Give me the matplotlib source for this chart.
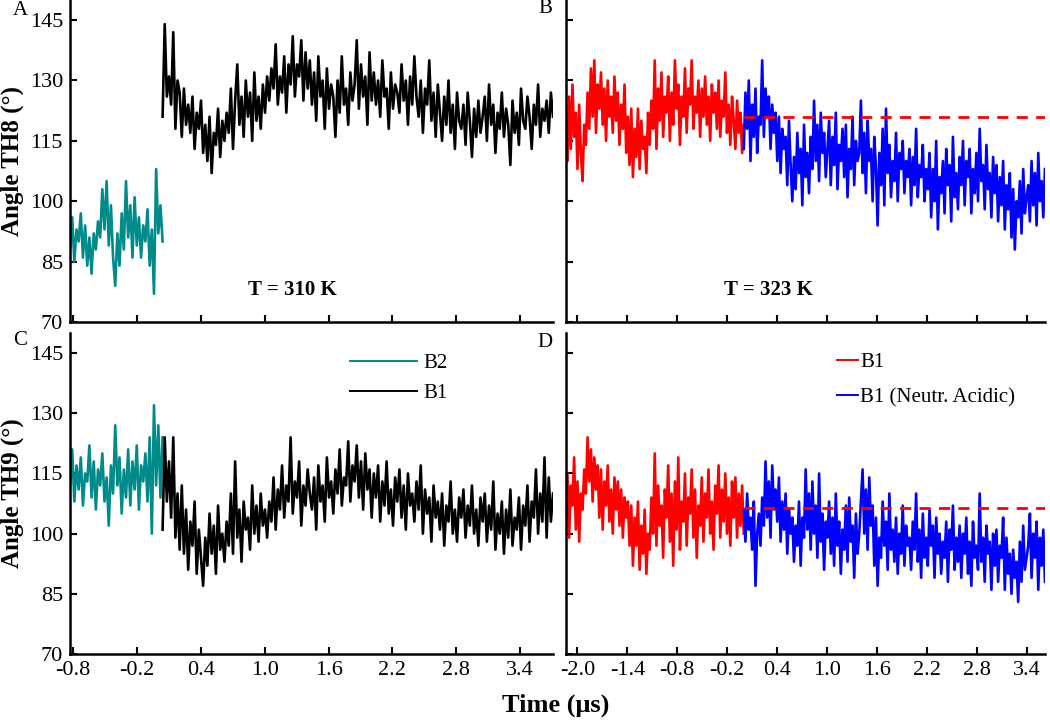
import matplotlib
matplotlib.use("Agg")
import matplotlib.pyplot as plt
import numpy as np

# ---- values (angle in degrees), ~0.02 us apart ----
# panel A: TH8, T = 310 K
th8_b2_310 = [88, 96, 85, 93, 90, 97, 86, 94, 84, 91,
              82, 92, 88, 95, 91, 103, 93, 105, 89, 99,
              86, 79, 92, 84, 97, 88, 105, 91, 99, 86,
              101, 89, 96, 86, 94, 90, 98, 84, 93, 77,
              108, 92, 99, 90]
th8_b1_310 = [121, 144, 126, 131, 124, 142, 118, 130, 127, 116,
              128, 119, 124, 117, 126, 113, 122, 118, 125, 112,
              119, 110, 121, 107, 117, 114, 123, 111, 120, 115,
              122, 117, 128, 113, 125, 134, 119, 126, 116, 130,
              121, 127, 115, 132, 120, 126, 118, 129, 122, 131,
              125, 133, 128, 139, 124, 131, 127, 136, 122, 134,
              129, 141, 126, 134, 131, 140, 125, 137, 128, 135,
              124, 132, 120, 136, 126, 130, 118, 133, 123, 129,
              126, 116, 130, 122, 136, 124, 128, 119, 132, 125,
              129, 140, 123, 134, 126, 131, 119, 137, 125, 132,
              124, 130, 121, 135, 126, 128, 118, 132, 123, 129,
              127, 122, 134, 125, 130, 119, 131, 124, 136, 126,
              121, 130, 117, 128, 124, 135, 120, 127, 116, 129,
              122, 115, 126, 119, 130, 117, 124, 113, 127, 120,
              118, 124, 114, 127, 120, 111, 123, 116, 125, 117,
              121, 126, 115, 129, 119, 124, 112, 122, 118, 127,
              116, 123, 119, 109, 125, 117, 122, 114, 128, 120,
              118, 126, 121, 113, 124, 119, 129, 116, 123, 120,
              125, 117, 127, 121]

# panel C: TH9, T = 310 K
th9_b2_310 = [112, 121, 108, 117, 111, 119, 107, 115, 113, 122,
              109, 118, 106, 116, 112, 120, 108, 114, 102, 117,
              110, 127, 112, 119, 105, 116, 109, 121, 107, 118,
              111, 122, 106, 117, 113, 120, 108, 124, 100, 132,
              112, 127, 109, 124]
th9_b1_310 = [101, 124, 108, 118, 104, 124, 99, 110, 96, 112,
              95, 106, 91, 103, 97, 108, 90, 101, 94, 87,
              99, 92, 105, 95, 102, 90, 107, 96, 100, 93,
              103, 97, 110, 95, 118, 99, 106, 93, 108, 101,
              104, 96, 112, 100, 107, 98, 110, 102, 106, 99,
              108, 103, 114, 101, 111, 106, 117, 104, 112, 108,
              124, 105, 113, 109, 118, 102, 112, 107, 116, 110,
              106, 114, 101, 117, 108, 112, 103, 119, 109, 113,
              105, 116, 110, 121, 107, 114, 112, 123, 108, 117,
              113, 122, 109, 118, 106, 120, 111, 116, 104, 115,
              109, 117, 103, 113, 107, 118, 105, 111, 102, 114,
              108, 116, 104, 112, 101, 115, 107, 110, 103, 113,
              106, 117, 100, 111, 105, 109, 98, 112, 104, 108,
              101, 110, 97, 107, 103, 113, 100, 106, 98, 109,
              104, 111, 99, 107, 102, 112, 100, 106, 97, 109,
              103, 110, 98, 107, 101, 113, 96, 105, 100, 108,
              95, 106, 99, 111, 97, 104, 101, 109, 96, 107,
              102, 112, 98, 108, 104, 116, 100, 110, 103, 119,
              99, 114, 103, 110]

# panel B: TH8, T = 323 K
th8_b1_323 = [118, 110, 126, 113, 129, 116, 122, 108, 124, 112,
              105, 119, 114, 127, 118, 133, 121, 135, 117, 129,
              123, 132, 119, 128, 115, 130, 121, 126, 117, 131,
              120, 127, 114, 124, 118, 129, 112, 121, 109, 123,
              106, 118, 111, 123, 108, 120, 113, 116, 107, 122,
              114, 125, 118, 135, 113, 128, 120, 132, 116, 126,
              122, 131, 115, 127, 119, 135, 123, 129, 114, 126,
              121, 133, 117, 128, 124, 135, 118, 126, 122, 130,
              116, 128, 121, 131, 119, 126, 115, 129, 122, 127,
              118, 130, 116, 125, 121, 132, 117, 124, 114, 126,
              120, 113, 125, 117, 122, 112, 119]
th8_neutr_323 = [113, 127, 118, 130, 110, 124, 116, 128, 112, 121,
                 119, 135, 116, 128, 121, 126, 113, 124, 117, 122,
                 110, 121, 107, 118, 113, 116, 104, 120, 109, 100,
                 111, 103, 117, 107, 113, 99, 119, 106, 112, 102,
                 116, 108, 125, 110, 119, 105, 122, 112, 117, 106,
                 113, 120, 104, 116, 109, 122, 103, 114, 110, 118,
                 106, 119, 101, 113, 108, 121, 104, 115, 110, 112,
                 125, 107, 117, 102, 120, 110, 113, 100, 116, 108,
                 94, 112, 104, 118, 99, 123, 107, 114, 101, 110,
                 105, 117, 100, 112, 108, 115, 102, 110, 106, 113,
                 99, 111, 104, 118, 101, 109, 106, 114, 100, 108,
                 103, 112, 96, 108, 100, 115, 93, 106, 102, 110,
                 97, 113, 104, 109, 95, 116, 101, 107, 98, 111,
                 104, 115, 99, 110, 106, 113, 97, 108, 102, 112,
                 100, 118, 105, 109, 98, 114, 103, 107, 96, 111,
                 102, 109, 95, 106, 99, 110, 93, 104, 98, 107,
                 91, 103, 88, 100, 96, 105, 92, 108, 97, 101,
                 104, 95, 110, 99, 107, 94, 112, 100, 105, 96, 108]
th8_ref = 121

# panel D: TH9, T = 323 K
th9_b1_323 = [104, 115, 99, 112, 107, 119, 101, 113, 98, 110,
              106, 116, 110, 124, 113, 121, 108, 119, 111, 117,
              104, 116, 101, 113, 107, 117, 103, 111, 100, 114,
              106, 113, 102, 111, 99, 109, 104, 108, 97, 107,
              92, 104, 97, 108, 91, 102, 95, 106, 90, 100,
              96, 109, 100, 120, 97, 112, 102, 107, 94, 111,
              104, 117, 98, 110, 92, 113, 101, 119, 96, 108,
              103, 115, 97, 109, 105, 116, 99, 111, 94, 107,
              102, 114, 98, 110, 104, 116, 100, 108, 96, 112,
              105, 117, 99, 111, 103, 115, 100, 109, 97, 113,
              104, 114, 99, 110, 102, 112, 100]
th9_neutr_323 = [106, 98, 110, 101, 104, 96, 108, 87, 100, 105,
                 97, 109, 102, 118, 104, 113, 99, 117, 106, 111,
                 103, 114, 98, 108, 101, 110, 95, 106, 100, 104,
                 93, 102, 97, 108, 92, 104, 99, 116, 101, 110,
                 96, 113, 100, 107, 94, 115, 98, 105, 91, 103,
                 99, 108, 95, 104, 92, 110, 97, 103, 90, 101,
                 96, 107, 93, 109, 98, 102, 89, 105, 95, 100,
                 108, 116, 100, 111, 96, 114, 102, 107, 92, 104,
                 87, 99, 94, 108, 97, 103, 91, 110, 96, 101,
                 93, 104, 90, 100, 95, 107, 92, 102, 97, 99,
                 91, 103, 96, 110, 93, 101, 89, 105, 94, 99,
                 92, 106, 97, 102, 89, 104, 95, 100, 90, 98,
                 94, 103, 88, 101, 96, 107, 91, 99, 93, 102,
                 89, 100, 95, 104, 90, 98, 87, 103, 94, 97,
                 91, 110, 93, 99, 88, 102, 95, 98, 86, 100,
                 92, 101, 88, 97, 94, 104, 86, 99, 90, 95,
                 85, 96, 89, 93, 83, 98, 88, 102, 91, 94,
                 97, 105, 89, 100, 94, 103, 86, 99, 92, 101, 88]
th9_ref = 106.5

# time spans (us) of each run
span_b2 = (-0.83, 0.04)
span_b1 = (0.04, 3.71)
span_red = (-2.14, 0.0)
span_blue = (0.0, 3.62)

left_ticks = [-0.8, -0.2, 0.4, 1.0, 1.6, 2.2, 2.8, 3.4]
right_ticks = [-2.0, -1.4, -0.8, -0.2, 0.4, 1.0, 1.6, 2.2, 2.8, 3.4]
y_ticks = [70, 85, 100, 115, 130, 145]

TEAL = "#008b8b"

plt.rcParams.update({
    "font.family": ["Liberation Serif", "DejaVu Serif"],
    "axes.unicode_minus": False,
    "xtick.direction": "in",
    "ytick.direction": "in",
})


def span(lim, values):
    return np.linspace(lim[0], lim[1], len(values))


def style(ax, xticks, xlim, show_x, show_y):
    ax.set_xlim(*xlim)
    ax.set_ylim(70, 150)
    ax.set_xticks(xticks)
    ax.set_xticklabels([f"{t:.1f}" for t in xticks] if show_x else [])
    ax.set_yticks(y_ticks)
    ax.set_yticklabels([str(t) for t in y_ticks] if show_y else [])
    for side in ("top", "right"):
        ax.spines[side].set_visible(False)
    for side in ("left", "bottom"):
        ax.spines[side].set_linewidth(1.8)
    ax.tick_params(length=5, width=1.5, labelsize=16, pad=5)


fig = plt.figure(figsize=(10.5, 7.21), dpi=100)
axA = fig.add_axes([0.0667, 0.5534, 0.46, 0.4466])
axB = fig.add_axes([0.5388, 0.5534, 0.4564, 0.4466])
axC = fig.add_axes([0.0667, 0.0929, 0.46, 0.4452])
axD = fig.add_axes([0.5388, 0.0929, 0.4564, 0.4452])

lw = 1.9
axA.plot(span(span_b2, th8_b2_310), th8_b2_310, color=TEAL, lw=lw)
axA.plot(span(span_b1, th8_b1_310), th8_b1_310, color="black", lw=lw)
axC.plot(span(span_b2, th9_b2_310), th9_b2_310, color=TEAL, lw=lw, label="B2")
axC.plot(span(span_b1, th9_b1_310), th9_b1_310, color="black", lw=lw, label="B1")

axB.plot(span(span_red, th8_b1_323), th8_b1_323, color="red", lw=lw)
axB.plot(span(span_blue, th8_neutr_323), th8_neutr_323, color="blue", lw=lw)
axB.plot(span_blue, [th8_ref, th8_ref], color="red", lw=2, ls=(0, (4, 3)))
axD.plot(span(span_red, th9_b1_323), th9_b1_323, color="red", lw=lw, label="B1")
axD.plot(span(span_blue, th9_neutr_323), th9_neutr_323, color="blue", lw=lw,
         label="B1 (Neutr. Acidic)")
axD.plot(span_blue, [th9_ref, th9_ref], color="red", lw=2, ls=(0, (4, 3)))

style(axA, left_ticks, (-0.83, 3.71), False, True)
style(axB, right_ticks, (-2.14, 3.62), False, False)
style(axC, left_ticks, (-0.83, 3.71), True, True)
style(axD, right_ticks, (-2.14, 3.62), True, False)

axA.set_ylabel("Angle TH8 (°)", fontsize=18, fontweight="bold", labelpad=4)
axC.set_ylabel("Angle TH9 (°)", fontsize=18, fontweight="bold", labelpad=4)
fig.text(0.529, 0.022, "Time (μs)", fontsize=19, fontweight="bold", ha="center", va="center")

axA.text(0.46, 0.1, "T = 310 K", transform=axA.transAxes, fontsize=15,
         fontweight="bold", ha="center", va="center")
axB.text(0.424, 0.1, "T = 323 K", transform=axB.transAxes, fontsize=15,
         fontweight="bold", ha="center", va="center")

for x, y, s in [(0.019, 0.985, "A"), (0.519, 0.988, "B"),
                (0.019, 0.528, "C"), (0.519, 0.525, "D")]:
    fig.text(x, y, s, fontsize=15, ha="center", va="center")

legC = axC.legend(loc="upper left", bbox_to_anchor=(0.58, 0.935), frameon=False,
                  fontsize=15, handlelength=3.2, handletextpad=0.3, labelspacing=0.5,
                  borderpad=0, borderaxespad=0)
legD = axD.legend(loc="upper left", bbox_to_anchor=(0.566, 0.94), frameon=False,
                  fontsize=15, handlelength=1.0, handletextpad=0.1, labelspacing=0.75,
                  borderpad=0, borderaxespad=0)
for leg in (legC, legD):
    for handle in leg.get_lines():
        handle.set_linewidth(1.4)

fig.savefig("out.png", dpi=100)
